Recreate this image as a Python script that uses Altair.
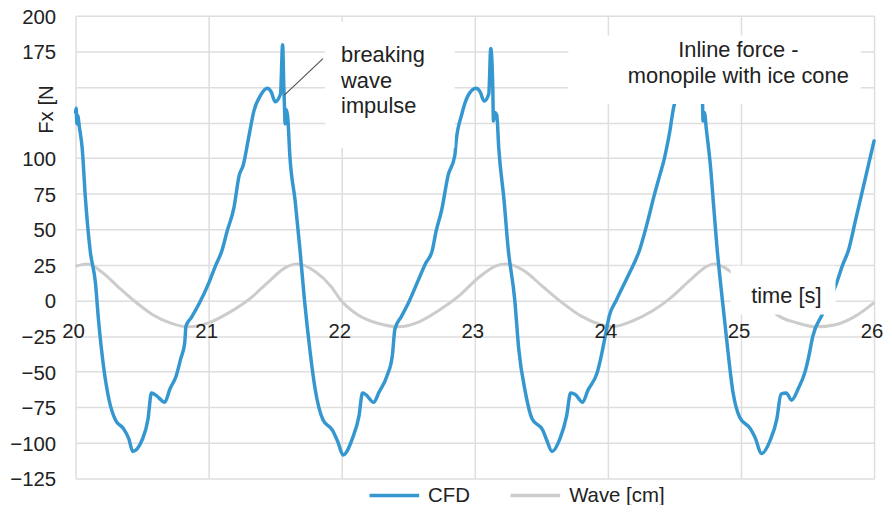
import altair as alt
import pandas as pd

# ---------------- data ----------------
series_names = ["CFD", "Wave [cm]"]
series_colors = ["#3597cf", "#cccccc"]

x_ticks = [20, 21, 22, 23, 24, 25, 26]
y_ticks = [-125, -100, -75, -50, -25, 0, 25, 50, 75, 100, 125, 150, 175, 200]

# CFD inline force (time s, force N)
cfd_points = [
    (20.0, 132), (20.005, 135), (20.01, 124), (20.015, 130), (20.03, 121), (20.05, 107),
    (20.074, 72), (20.11, 35), (20.15, 12), (20.17, -11), (20.21, -46), (20.25, -69),
    (20.30, -84), (20.36, -90), (20.40, -97), (20.43, -106), (20.50, -98), (20.545, -83),
    (20.57, -65), (20.61, -67), (20.67, -71.5), (20.71, -62), (20.756, -53), (20.79, -41),
    (20.82, -30), (20.83, -18), (20.87, -12), (20.93, -2), (21.0, 12), (21.05, 24),
    (21.10, 35), (21.14, 49), (21.19, 65), (21.23, 88), (21.26, 95), (21.30, 114),
    (21.34, 133), (21.39, 144), (21.44, 149), (21.47, 146.5), (21.50, 139.5), (21.54, 145),
    (21.556, 179.5), (21.565, 150), (21.57, 136), (21.575, 124), (21.585, 134), (21.595, 128),
    (21.61, 102), (21.65, 70), (21.685, 37), (21.72, 0.5), (21.76, -34), (21.80, -62),
    (21.86, -84), (21.93, -91), (21.97, -99), (22.01, -108.5), (22.08, -97), (22.13, -81),
    (22.156, -65), (22.18, -66), (22.24, -71.5), (22.28, -64.5), (22.34, -53), (22.38, -39),
    (22.40, -20), (22.45, -11), (22.50, -2), (22.565, 12), (22.63, 26), (22.68, 35),
    (22.71, 49), (22.75, 63), (22.80, 88), (22.85, 102), (22.86, 112), (22.90, 130),
    (22.95, 144), (23.01, 149), (23.04, 146.5), (23.07, 140), (23.105, 145), (23.12, 177),
    (23.135, 150), (23.14, 126), (23.15, 132), (23.165, 130), (23.18, 107), (23.22, 70),
    (23.25, 37), (23.30, 0.5), (23.33, -34), (23.38, -64.5), (23.43, -83), (23.51, -91),
    (23.54, -98), (23.58, -106), (23.64, -97), (23.69, -81), (23.72, -65), (23.755, -66),
    (23.81, -71.5), (23.85, -63), (23.92, -50.5), (23.95, -39), (23.98, -25), (24.01, -11),
    (24.065, 0.5), (24.15, 17), (24.24, 36), (24.30, 56), (24.35, 74.5), (24.39, 88),
    (24.42, 98), (24.46, 116), (24.50, 138), (24.55, 146), (24.60, 149), (24.63, 146),
    (24.66, 140), (24.685, 145), (24.70, 177), (24.71, 145), (24.715, 126), (24.725, 132),
    (24.74, 120), (24.77, 95), (24.795, 66), (24.82, 37), (24.86, 0.5), (24.90, -34),
    (24.94, -64.5), (24.99, -82), (25.07, -90), (25.105, -96), (25.155, -107.5), (25.22, -98),
    (25.27, -83), (25.30, -65.7), (25.34, -65), (25.38, -70), (25.43, -62), (25.48, -50.5),
    (25.51, -39), (25.54, -25), (25.61, -10), (25.66, 0), (25.71, 10), (25.76, 24),
    (25.81, 36), (25.86, 56), (25.935, 86), (25.95, 92), (26.0, 112),
]

# Wave elevation (time s, cm)
wave_points = [
    (20.0, 24), (20.09, 25.7), (20.21, 19), (20.33, 8.7), (20.46, -1.8), (20.58, -10),
    (20.71, -15.7), (20.84, -18.5), (21.0, -15.7), (21.15, -8.7), (21.30, 0.5), (21.45, 13),
    (21.57, 22.7), (21.67, 25.7), (21.80, 20.3), (21.92, 9.8), (21.99, 0.5), (22.12, -10),
    (22.27, -16), (22.43, -18.5), (22.59, -14.6), (22.74, -6.4), (22.89, 4), (23.04, 17),
    (23.16, 24.3), (23.23, 25.7), (23.36, 21.5), (23.51, 9.8), (23.66, -1.8), (23.80, -11),
    (23.95, -17), (24.03, -18.5), (24.18, -14.6), (24.33, -7.6), (24.47, 1.7), (24.62, 14.5),
    (24.75, 24.3), (24.80, 25.7), (24.87, 23.4), (24.92, 20.3), (25.02, 12), (25.12, 3),
    (25.20, -4), (25.27, -10), (25.42, -15.7), (25.56, -18.5), (25.71, -17), (25.86, -11),
    (26.0, -1.5),
]

# annotation masks (white boxes) in data units
box_t1 = [21.874, 23.703, 24.922]
box_t2 = [22.848, 25.90, 25.710]
box_v1 = [195.8, 186.0, 24.3]
box_v2 = [107.3, 138.0, -9.9]

# annotation texts (y = first text line)
left_text = ["breaking\nwave\nimpulse"]
left_t = [21.995]
left_v = [172.5]
center_text = ["Inline force -\nmonopile with ice cone", "time [s]"]
center_t = [24.98, 25.341]
center_v = [176.0, 3.0]

# leader line
leader_t = [21.569, 21.859]
leader_v = [144.2, 169.8]

# ---------------- tables ----------------
cfd_df = pd.DataFrame({
    "t": [p[0] for p in cfd_points],
    "v": [p[1] for p in cfd_points],
    "series": series_names[0],
    "i": list(range(len(cfd_points))),
})
wave_df = pd.DataFrame({
    "t": [p[0] for p in wave_points],
    "v": [p[1] for p in wave_points],
    "series": series_names[1],
})
box_df = pd.DataFrame({"t": box_t1, "t2": box_t2, "v": box_v1, "v2": box_v2})
left_df = pd.DataFrame({"t": left_t, "v": left_v, "label": left_text})
center_df = pd.DataFrame({"t": center_t, "v": center_v, "label": center_text})
leader_df = pd.DataFrame({"t": [leader_t[0]], "t2": [leader_t[1]],
                          "v": [leader_v[0]], "v2": [leader_v[1]]})
xlab_df = pd.DataFrame({"t": x_ticks, "v": [0] * len(x_ticks),
                        "label": [str(x) for x in x_ticks]})

TXT = "#222222"
GRID = "#dedede"
FS = 20.5

x_enc = alt.X(
    "t:Q",
    scale=alt.Scale(domain=[20, 26], nice=False, zero=False),
    axis=alt.Axis(
        values=x_ticks, tickCount=7, title=None, grid=True, gridColor=GRID, gridWidth=1.5,
        domain=False, ticks=False, tickSize=0, labels=False,
    ),
)
y_enc = alt.Y(
    "v:Q",
    scale=alt.Scale(domain=[-125, 200], nice=False, zero=False),
    axis=alt.Axis(
        values=y_ticks, tickCount=14, format="d", grid=True, gridColor=GRID, gridWidth=1.5,
        domain=False, ticks=False, tickSize=0, labelFontSize=FS, labelColor=TXT,
        labelPadding=20, labelOverlap=False, labelFlush=False, labelOffset=1.5,
        labelExpr="datum.value == 125 || datum.value == 150 ? '' : datum.label",
        title="Fx [N", titleFontSize=FS, titleFontWeight="normal", titleColor=TXT,
        titleAngle=270, titleX=-29, titleY=94, titleAlign="center", titleBaseline="middle",
    ),
)
color_enc = alt.Color(
    "series:N",
    scale=alt.Scale(domain=series_names, range=series_colors),
    legend=alt.Legend(
        title=None, orient="none", legendX=294, legendY=456, direction="horizontal",
        symbolType="stroke", symbolSize=2500, symbolStrokeWidth=3.5,
        labelFontSize=FS, labelColor=TXT, labelOffset=7, columnPadding=33, padding=0,
    ),
)

wave_layer = alt.Chart(wave_df).mark_line(strokeWidth=3, interpolate="monotone").encode(
    x=x_enc, y=y_enc, color=color_enc
)
cfd_layer = alt.Chart(cfd_df).mark_line(
    strokeWidth=3.5, strokeJoin="round", strokeCap="round", interpolate="monotone"
).encode(x=x_enc, y=y_enc, color=color_enc, order="i:Q")
xlab_layer = alt.Chart(xlab_df).mark_text(
    align="center", baseline="top", dy=22, dx=-2, fontSize=FS, color=TXT
).encode(x="t:Q", y="v:Q", text="label:N")
box_layer = alt.Chart(box_df).mark_rect(color="white").encode(
    x="t:Q", x2="t2:Q", y="v:Q", y2="v2:Q"
)
leader_layer = alt.Chart(leader_df).mark_rule(color="#555555", strokeWidth=1.2).encode(
    x="t:Q", x2="t2:Q", y="v:Q", y2="v2:Q"
)
left_layer = alt.Chart(left_df).mark_text(
    align="left", baseline="middle", fontSize=22, lineBreak="\n", lineHeight=26, color=TXT
).encode(x="t:Q", y="v:Q", text="label:N")
center_layer = alt.Chart(center_df).mark_text(
    align="center", baseline="middle", fontSize=22, lineBreak="\n", lineHeight=26, color=TXT
).encode(x="t:Q", y="v:Q", text="label:N")

chart = alt.layer(
    wave_layer, cfd_layer, xlab_layer, box_layer, leader_layer, left_layer, center_layer
).properties(
    width=804, height=466,
    autosize=alt.AutoSizeParams(type="none"),
    padding={"left": 68, "top": 6, "right": 10, "bottom": 25},
).configure(font="Liberation Sans").configure_view(strokeWidth=0)

chart.save("out.html", embed_options={"renderer": "svg", "actions": False})
